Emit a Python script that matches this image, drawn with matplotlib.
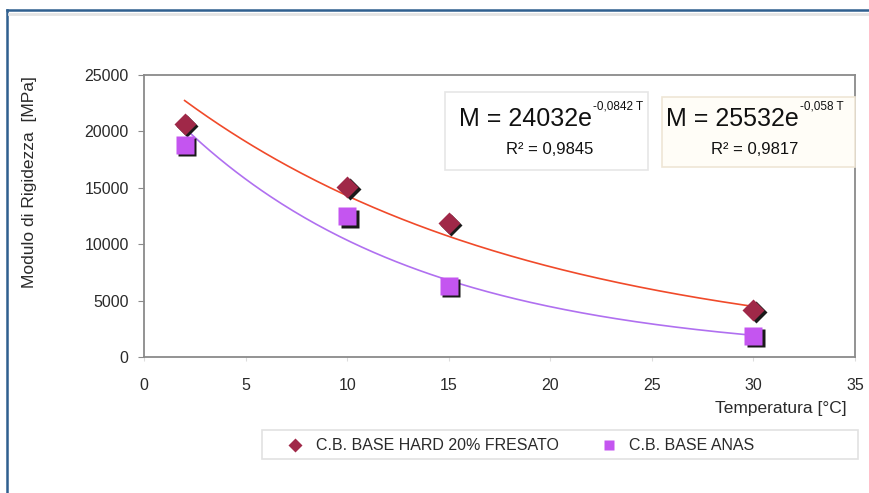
import numpy as np
import matplotlib
matplotlib.use("Agg")
import matplotlib.pyplot as plt
from matplotlib.lines import Line2D
from matplotlib.patches import Rectangle
from matplotlib.transforms import offset_copy

plt.rcParams['font.family'] = ['Liberation Sans', 'DejaVu Sans']

# measured stiffness modulus [MPa] vs test temperature [°C]
temp = [2, 10, 15, 30]
mod_hard = [20700, 15100, 11900, 4200]    # C.B. BASE HARD 20% FRESATO
mod_anas = [18800, 12500, 6300, 1900]     # C.B. BASE ANAS

# exponential trend lines M = a * exp(b * T)
fit_anas = (24032, -0.0842)
fit_hard = (25532, -0.058)
eq_anas = ("M = 24032e", "-0,0842 T", "R² = 0,9845")
eq_hard = ("M = 25532e", "-0,058 T", "R² = 0,9817")

labels = ["C.B. BASE HARD 20% FRESATO", "C.B. BASE ANAS"]
xticks = [0, 5, 10, 15, 20, 25, 30, 35]
yticks = [0, 5000, 10000, 15000, 20000, 25000]

W, H = 869, 493
c_hard = '#A02848'
c_anas = '#C455F0'
c_line_hard = '#F04A2A'
c_line_anas = '#B070F0'
grey = '#8A8A8A'
txt = '#2A2A2A'


def fx(x):
    return x / W


def fy(y):
    return 1 - y / H


fig = plt.figure(figsize=(W / 100, H / 100), dpi=100)
fig.patch.set_facecolor('white')
ax = fig.add_axes([fx(144), fy(357), fx(855) - fx(144), fy(75) - fy(357)])

tt = np.linspace(temp[0], temp[-1], 200)
ax.plot(tt, fit_hard[0] * np.exp(fit_hard[1] * tt), color=c_line_hard, lw=1.2, zorder=2)
ax.plot(tt, fit_anas[0] * np.exp(fit_anas[1] * tt), color=c_line_anas, lw=1.2, zorder=2)

# dark drop shadow behind the markers
shadow = offset_copy(ax.transData, fig=fig, x=2.5, y=-2.5, units='dots')
for ys, mk, ms in [(mod_hard, 'D', 11), (mod_anas, 's', 13)]:
    ax.plot(temp, ys, ls='none', marker=mk, ms=ms, color='#1A1A1A',
            mec='none', transform=shadow, zorder=3)
ax.plot(temp, mod_hard, ls='none', marker='D', ms=11, color=c_hard, mec='none', zorder=4)
ax.plot(temp, mod_anas, ls='none', marker='s', ms=13, color=c_anas, mec='none', zorder=4)

ax.set_xlim(0, 35)
ax.set_ylim(0, 25000)
ax.set_xticks(xticks)
ax.set_yticks(yticks)
for s in ax.spines.values():
    s.set_color(grey)
    s.set_linewidth(1.3)
ax.tick_params(axis='y', direction='out', length=4, color=grey, pad=7,
               labelsize=11.5, labelcolor=txt)
ax.tick_params(axis='x', direction='out', length=3, color='#DDDDDD', pad=12,
               labelsize=11.5, labelcolor=txt)

fig.text(fx(30), fy(182), "Modulo di Rigidezza  [MPa]", rotation=90,
         ha='center', va='center', fontsize=12.5, color=txt)
fig.text(fx(847), fy(409), "Temperatura [°C]", ha='right', va='center',
         fontsize=12.5, color=txt)

# equation boxes
boxes = [((445, 92, 648, 170), '#FFFFFF', '#E6E6E6', eq_anas, 459, 550),
         ((662, 97, 855, 167), '#FFFDF7', '#EFE6D6', eq_hard, 666, 755)]
for (x0, y0, x1, y1), fc, ec, eq, tx, rx in boxes:
    fig.patches.append(Rectangle((fx(x0), fy(y1)), fx(x1) - fx(x0), fy(y0) - fy(y1),
                                 transform=fig.transFigure, fc=fc, ec=ec, lw=1.2, zorder=5))
    main = fig.text(fx(tx), fy(126), eq[0], ha='left', va='baseline',
                    fontsize=18, color='#111111', zorder=6)
    fig.add_artist(plt.Annotation(eq[1], xy=(1, 1), xycoords=main, xytext=(1, 5),
                                  textcoords='offset points', ha='left', va='top',
                                  fontsize=8.5, color='#111111', zorder=6))
    fig.text(fx(rx), fy(150), eq[2], ha='center', va='center',
             fontsize=12, color='#111111', zorder=6)

# legend frame below the plot
fig.patches.append(Rectangle((fx(262), fy(459)), fx(858) - fx(262), fy(430) - fy(459),
                             transform=fig.transFigure, fc='white', ec='#E2E2E2', lw=1.2))
handles = [Line2D([], [], ls='none', marker='D', ms=7, color=c_hard, mec='none'),
           Line2D([], [], ls='none', marker='s', ms=7, color=c_anas, mec='none')]
fig.legend(handles, labels, loc='center left', bbox_to_anchor=(fx(273), fy(446)),
           ncol=2, frameon=False, fontsize=11.5, handlelength=1.0, handletextpad=0.8,
           columnspacing=2.6, labelcolor=txt)

# outer frame, open on the right and bottom
fig.add_artist(Line2D([fx(7), 1], [fy(10), fy(10)], color='#2F5F8F', lw=1.8,
                      transform=fig.transFigure))
fig.add_artist(Line2D([fx(7), fx(7)], [fy(10), 0], color='#2F5F8F', lw=1.8,
                      transform=fig.transFigure))
fig.add_artist(Line2D([fx(9), 1], [fy(14), fy(14)], color='#E4E4E4', lw=2.0,
                      transform=fig.transFigure))

fig.savefig('out.png', dpi=100)
